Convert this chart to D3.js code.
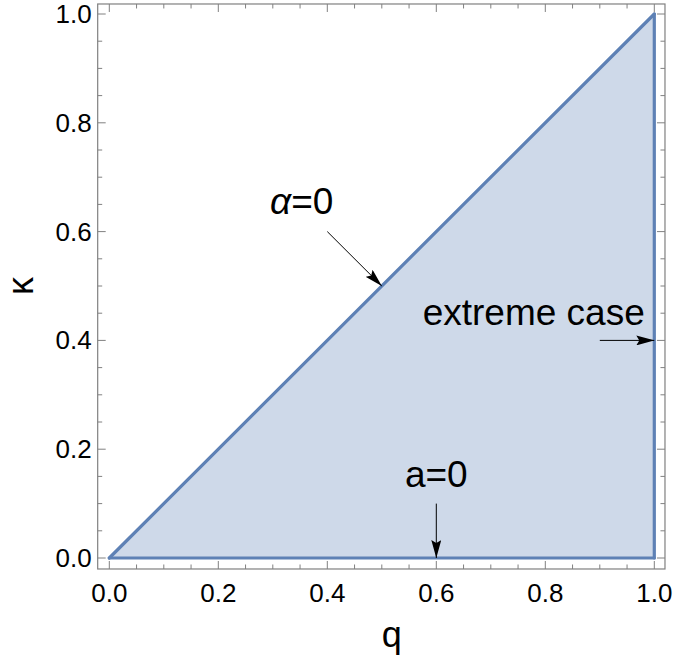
<!DOCTYPE html>
<html>
<head>
<meta charset="utf-8">
<script src="https://cdn.jsdelivr.net/npm/d3@7"></script>
<style>
  body { margin: 0; background: #fff; }
  text { font-family: "Liberation Sans", Arial, sans-serif; }
</style>
</head>
<body>
<svg id="canvas" width="675" height="665"></svg>
<script>
// region corners (q, kappa)
var region = [[0, 0], [1, 1], [1, 0]];
var boundary = [[[0, 0], [1, 1]], [[1, 1], [1, 0]], [[1, 0], [0, 0]]];
var majorTicks = [0, 0.2, 0.4, 0.6, 0.8, 1.0];
var tickLabels = ["0.0", "0.2", "0.4", "0.6", "0.8", "1.0"];
var notes = [
	{ label: "α=0", italic: true, from: [0.4, 0.6], to: [0.5, 0.5], text: [0.353, 0.632], anchor: "middle" },
	{ label: "extreme case", italic: false, from: [0.9, 0.4], to: [1.0, 0.4], text: [0.575, 0.429], anchor: "start" },
	{ label: "a=0", italic: false, from: [0.6, 0.1], to: [0.6, 0.0], text: [0.6, 0.13], anchor: "middle" }
];

var svg = d3.select("#canvas");
var x = d3.scaleLinear().domain([0, 1]).range([109.3, 654.3]);
var y = d3.scaleLinear().domain([0, 1]).range([558, 14]);
var xMin = -0.0213, xMax = 1.0196, yMin = -0.0202, yMax = 1.0184;

var minorTicks = d3.range(0, 1.0001, 0.05).filter(function(d){
	return Math.abs(d * 5 - Math.round(d * 5)) > 1e-6;
});

svg.append("defs").append("marker")
	.attr("id", "head")
	.attr("viewBox", "0 0 18 10")
	.attr("refX", 18).attr("refY", 5)
	.attr("markerWidth", 18).attr("markerHeight", 10)
	.attr("markerUnits", "userSpaceOnUse")
	.attr("orient", "auto")
	.append("path")
	.attr("d", "M0,0 L18,5 L0,10 L3,5 Z")
	.attr("fill", "#000");

var line = d3.line().x(function(d){ return x(d[0]); }).y(function(d){ return y(d[1]); });

// shaded region
svg.append("path")
	.attr("d", line(region) + "Z")
	.attr("fill", "#5e81b5")
	.attr("fill-opacity", 0.3)
	.attr("stroke", "none");

svg.selectAll("path.edge")
	.data(boundary)
	.enter()
	.append("path")
	.attr("class", "edge")
	.attr("d", function(d){ return line(d); })
	.attr("fill", "none")
	.attr("stroke", "#5e81b5")
	.attr("stroke-width", 3.2)
	.attr("stroke-linecap", "round");

// frame
var fx0 = x(xMin), fx1 = x(xMax), fy0 = y(yMin), fy1 = y(yMax);
svg.append("rect")
	.attr("x", fx0).attr("y", fy1)
	.attr("width", fx1 - fx0).attr("height", fy0 - fy1)
	.attr("fill", "none")
	.attr("stroke", "#808080")
	.attr("stroke-width", 1.2);

var tickG = svg.append("g").attr("stroke", "#808080").attr("stroke-width", 1);
function ticks(vals, len){
	vals.forEach(function(v){
		tickG.append("line").attr("x1", x(v)).attr("x2", x(v)).attr("y1", fy0).attr("y2", fy0 - len);
		tickG.append("line").attr("x1", x(v)).attr("x2", x(v)).attr("y1", fy1).attr("y2", fy1 + len);
		tickG.append("line").attr("y1", y(v)).attr("y2", y(v)).attr("x1", fx0).attr("x2", fx0 + len);
		tickG.append("line").attr("y1", y(v)).attr("y2", y(v)).attr("x1", fx1).attr("x2", fx1 - len);
	});
}
ticks(majorTicks, 8);
ticks(minorTicks, 4.5);

svg.selectAll("text.xt")
	.data(majorTicks)
	.enter()
	.append("text")
	.attr("class", "xt")
	.attr("x", function(d){ return x(d); })
	.attr("y", 602)
	.attr("text-anchor", "middle")
	.attr("font-size", 26)
	.text(function(d, i){ return tickLabels[i]; });

svg.selectAll("text.yt")
	.data(majorTicks)
	.enter()
	.append("text")
	.attr("class", "yt")
	.attr("x", fx0 - 6)
	.attr("y", function(d){ return y(d) + 9; })
	.attr("text-anchor", "end")
	.attr("font-size", 26)
	.text(function(d, i){ return tickLabels[i]; });

// axis labels
svg.append("text")
	.attr("x", x(0.5) + 10).attr("y", 647)
	.attr("text-anchor", "middle")
	.attr("font-size", 36)
	.text("q");

svg.append("text")
	.attr("transform", "translate(33," + y(0.5) + ") rotate(-90)")
	.attr("text-anchor", "middle")
	.attr("font-size", 36)
	.text("κ");

// annotations
var ann = svg.selectAll("g.note")
	.data(notes)
	.enter()
	.append("g")
	.attr("class", "note");

ann.append("line")
	.attr("x1", function(d){ return x(d.from[0]); })
	.attr("y1", function(d){ return y(d.from[1]); })
	.attr("x2", function(d){ return x(d.to[0]); })
	.attr("y2", function(d){ return y(d.to[1]); })
	.attr("stroke", "#000")
	.attr("stroke-width", 1)
	.attr("marker-end", "url(#head)");

var t = ann.append("text")
	.attr("x", function(d){ return x(d.text[0]); })
	.attr("y", function(d){ return y(d.text[1]); })
	.attr("text-anchor", function(d){ return d.anchor; })
	.attr("font-size", 37);
t.each(function(d){
	var el = d3.select(this);
	if (d.italic) {
		el.append("tspan").attr("font-style", "italic").text(d.label.charAt(0));
		el.append("tspan").text(d.label.slice(1));
	} else {
		el.text(d.label);
	}
});
</script>
</body>
</html>
